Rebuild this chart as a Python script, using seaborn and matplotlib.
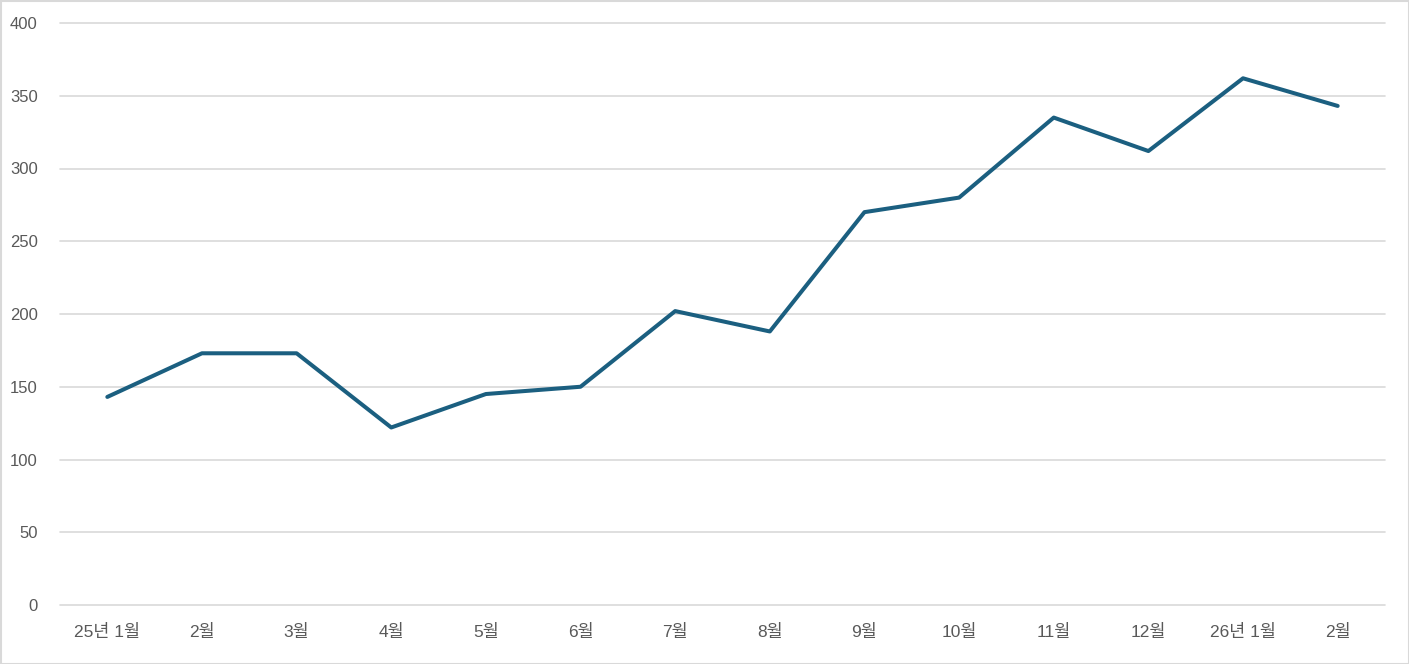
import pandas as pd
import numpy as np
import matplotlib.pyplot as plt
import seaborn as sns
from matplotlib.patches import Rectangle

months = ['25년 1월', '2월', '3월', '4월', '5월', '6월', '7월', '8월',
          '9월', '10월', '11월', '12월', '26년 1월', '2월']
values = [143, 173, 173, 122, 145, 150, 202, 188, 270, 280, 335, 312, 362, 343]
y_ticks = [0, 50, 100, 150, 200, 250, 300, 350, 400]

sns.set_style('white')
plt.rcParams['font.family'] = ['Liberation Sans', 'Noto Sans CJK KR']

df = pd.DataFrame({'idx': np.arange(len(months)), 'value': values})

fig = plt.figure(figsize=(14.09, 6.64), dpi=100)
ax = fig.add_axes([60 / 1409, 59 / 664, 1325 / 1409, 582 / 664])

sns.lineplot(data=df, x='idx', y='value', ax=ax, color='#1b5f80', linewidth=2.9)

ax.set_xlim(-0.5, len(months) - 0.5)
ax.set_ylim(0, 400)
ax.set_yticks(y_ticks)
ax.set_xticks(np.arange(len(months)))
ax.set_xticklabels(months)
ax.grid(axis='y', color='#d9d9d9', linewidth=1.2)
for gl in ax.get_ygridlines():
    gl.set_clip_on(False)
ax.set_axisbelow(True)
for s in ax.spines.values():
    s.set_visible(False)
ax.tick_params(axis='both', length=0, labelsize=12, labelcolor='#595959')
ax.tick_params(axis='y', pad=16)
ax.tick_params(axis='x', labelsize=12.5, pad=14)
ax.set_xlabel('')
ax.set_ylabel('')

fig.patches.append(Rectangle((0.5 / 1409, 0.5 / 664), 1 - 1 / 1409, 1 - 1 / 664,
                             transform=fig.transFigure, fill=False,
                             edgecolor='#d9d9d9', linewidth=1.5))

plt.savefig('out.png', dpi=100)
plt.close()
